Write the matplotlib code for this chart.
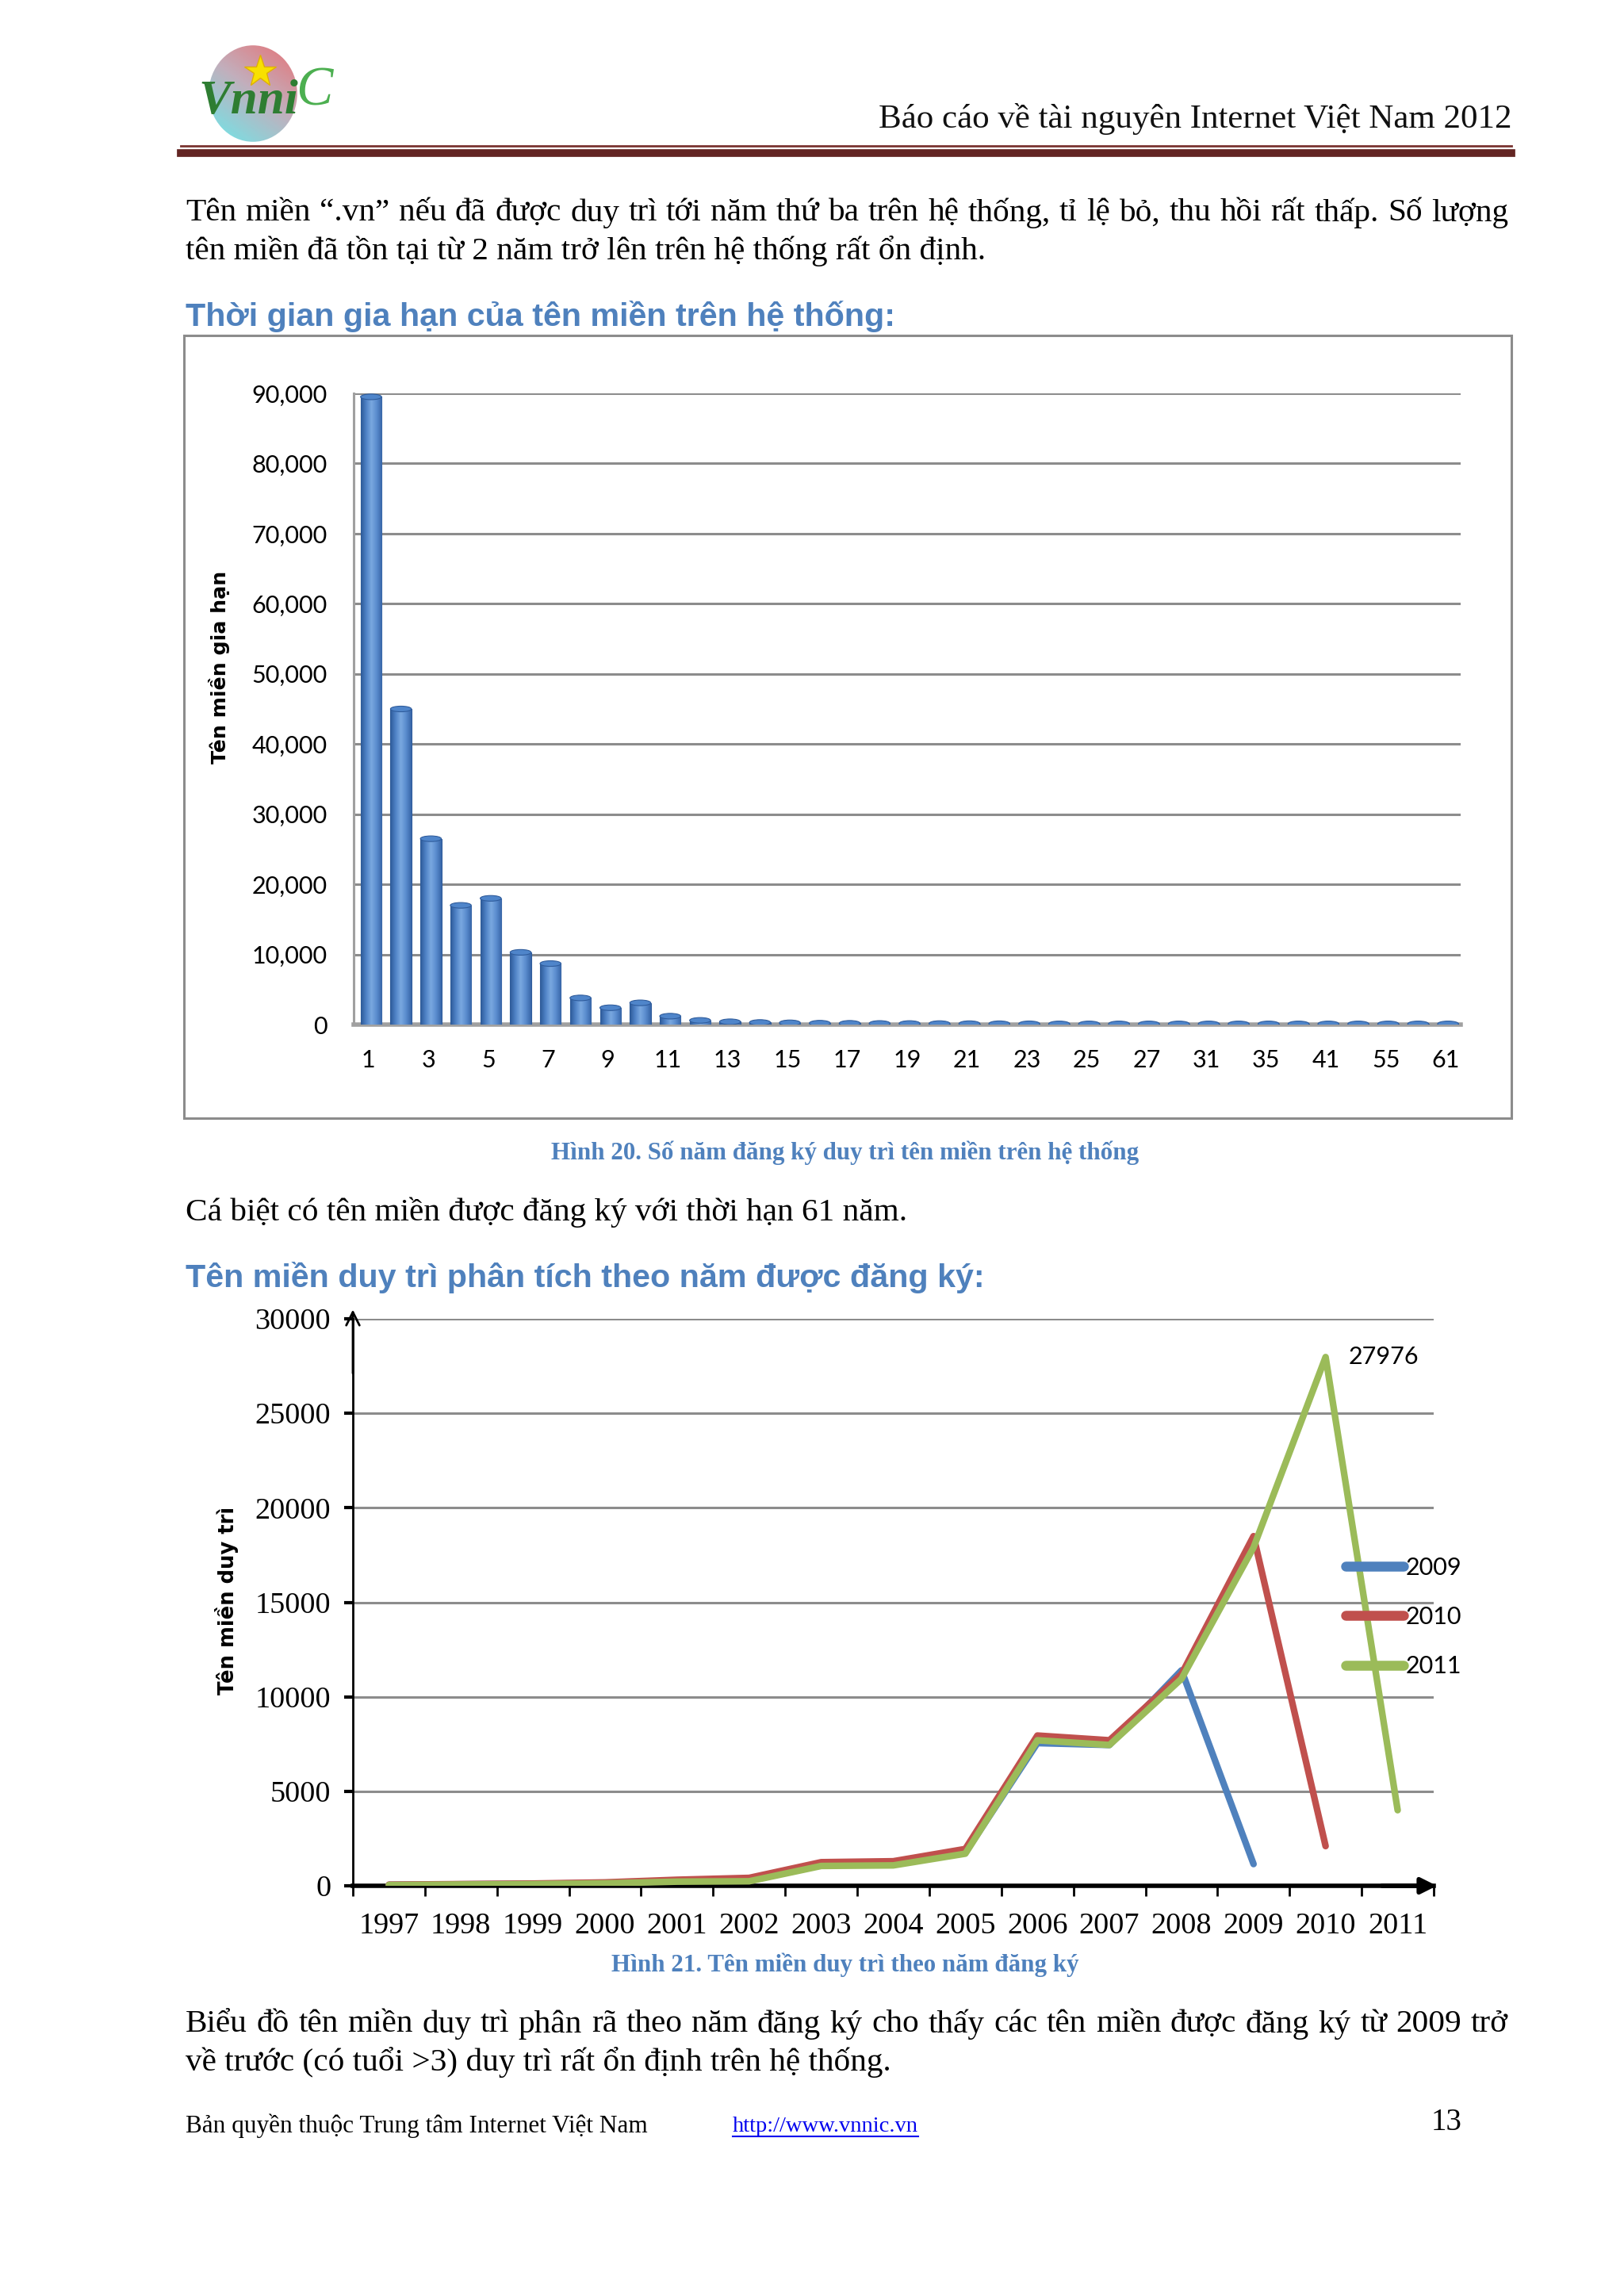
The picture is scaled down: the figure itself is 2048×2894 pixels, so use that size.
import numpy as np
import matplotlib.pyplot as plt
from matplotlib.colors import LinearSegmentedColormap
from matplotlib.patches import Rectangle, Ellipse
from matplotlib.lines import Line2D

# ---- data: renewal period (years) of domains on the system
years_kept = ['1', '2', '3', '4', '5', '6', '7', '8', '9', '10', '11', '12',
              '13', '14', '15', '16', '17', '18', '19', '20', '21', '22', '23',
              '24', '25', '26', '27', '29', '31', '33', '35', '40', '41', '50',
              '55', '60', '61']
domains_renewed = [89500, 45000, 26500, 17000, 18000, 10300, 8700, 3800, 2400,
                   3100, 1200, 600, 400, 300, 250, 200, 180, 160, 150, 140,
                   130, 120, 110, 100, 100, 100, 100, 100, 100, 100, 100, 100,
                   100, 100, 100, 100, 100]

# ---- data: kept domains by registration year
reg_years = ['1997', '1998', '1999', '2000', '2001', '2002', '2003', '2004',
             '2005', '2006', '2007', '2008', '2009', '2010', '2011']
nan = float('nan')
kept_2009 = [50, 80, 100, 150, 250, 300, 1100, 1150, 1750, 7550, 7450, 11400,
             1150, nan, nan]
kept_2010 = [60, 90, 120, 180, 320, 420, 1250, 1300, 1950, 7950, 7700, 11200,
             18500, 2100, nan]
kept_2011 = [40, 70, 90, 130, 220, 240, 1050, 1080, 1700, 7700, 7450, 10950,
             17900, 27976, 4000]
series_names = ['2009', '2010', '2011']
series_colors = ['#4F81BD', '#C0504D', '#9BBB59']

W, H = 2048, 2894
fig = plt.figure(figsize=(W / 100, H / 100), dpi=100)
fig.patch.set_facecolor('white')


def fx(px):
  return px / W


def fy(py):
  return 1 - py / H


SERIF = 'Liberation Serif'
HEAD_BLUE = '#4F81BD'


def justify(text, x0, x1, y, **kw):
  """ Draws a line of words spread evenly between x0 and x1 (pixels) """
  words = text.split(' ')
  r = fig.canvas.get_renderer()
  arts = [fig.text(0, fy(y), w, va='center', ha='left', **kw) for w in words]
  widths = [a.get_window_extent(r).width for a in arts]
  gap = ((x1 - x0) - sum(widths)) / (len(words) - 1)
  x = x0
  for a, w in zip(arts, widths):
    a.set_x(fx(x))
    x += w + gap


# ---- header
fig.text(fx(1906), fy(150), 'Báo cáo về tài nguyên Internet Việt Nam 2012',
         ha='right', va='center', fontsize=31, family=SERIF, color='#111111')
fig.add_artist(Line2D([fx(228), fx(1906)], [fy(184), fy(184)],
                      transform=fig.transFigure, color='#7A3330', lw=2.0))
fig.add_artist(Line2D([fx(228), fx(1906)], [fy(193), fy(193)],
                      transform=fig.transFigure, color='#632523', lw=7.0))

# logo (rough)
lax = fig.add_axes([fx(238), fy(182), fx(180), 128 / H])
lax.set_xlim(0, 1)
lax.set_ylim(0, 1)
lax.axis('off')
gx, gy = np.meshgrid(np.linspace(0, 1, 60), np.linspace(0, 1, 60))
grad = (gx + gy) / 2
lcmap = LinearSegmentedColormap.from_list('logo', ['#40F0F0', '#B8A0B0', '#F04040'])
ell = Ellipse((0.45, 0.5), 0.62, 0.95, transform=lax.transAxes)
im = lax.imshow(grad, extent=[0, 1, 0, 1], origin='lower', cmap=lcmap,
                aspect='auto', alpha=0.85)
im.set_clip_path(ell)
lax.plot([0.5], [0.72], marker='*', ms=30, color='#F8E000', mec='#E0B000')
lax.text(0.42, 0.42, 'Vnni', ha='center', va='center', fontsize=44,
         family=SERIF, style='italic', color='#2E7D32', weight='bold')
lax.text(0.88, 0.52, 'C', ha='center', va='center', fontsize=50,
         family=SERIF, style='italic', color='#4CAF50')

# ---- first paragraph
body = dict(fontsize=29.7, family=SERIF, color='black')
justify('Tên miền “.vn” nếu đã được duy trì tới năm thứ ba trên hệ thống, '
        'tỉ lệ bỏ, thu hồi rất thấp. Số lượng', 234, 1902, 269, **body)
fig.text(fx(234), fy(317), 'tên miền đã tồn tại từ 2 năm trở lên trên hệ thống rất ổn định.',
         va='center', **body)

head = dict(fontsize=29.7, family='Liberation Sans', weight='bold', color=HEAD_BLUE)
fig.text(fx(234), fy(399), 'Thời gian gia hạn của tên miền trên hệ thống:',
         va='center', **head)

# ---- bar chart
fig.add_artist(Rectangle((fx(232), fy(1410)), fx(1906) - fx(232), fy(423) - fy(1410),
                         transform=fig.transFigure, fill=False,
                         edgecolor='#8C8C8C', lw=2.2))
ax1 = fig.add_axes([fx(446), fy(1292), fx(1842) - fx(446), fy(496) - fy(1292)])
xpos = np.arange(len(years_kept))
bars = ax1.bar(xpos + 0.08, domains_renewed, width=0.7, color='#4A7EC0',
               edgecolor='#2F5C9C', lw=0.8, zorder=3)
bcmap = LinearSegmentedColormap.from_list(
    'bar', ['#2D5A98', '#4F82C6', '#7AA8E0', '#5A8CCE', '#3866A8'])
bgrad = np.linspace(0, 1, 64).reshape(1, -1)
for b in bars:
  x0, w, h = b.get_x(), b.get_width(), b.get_height()
  gim = ax1.imshow(bgrad, extent=[x0, x0 + w, 0, h], cmap=bcmap,
                   aspect='auto', zorder=3.5)
  gim.set_clip_path(b)
  ax1.add_patch(Ellipse((x0 + w / 2, h), w, 800, facecolor='#4F85CA',
                        edgecolor='#2F5C9C', lw=0.8, zorder=4))
ax1.set_xlim(-0.5, len(years_kept) - 0.5)
ax1.set_ylim(0, 90000)
ax1.set_yticks(np.arange(0, 90001, 10000))
ax1.set_yticklabels(['{:,}'.format(v) for v in range(0, 90001, 10000)],
                    fontsize=22, family='Lato')
ax1.set_xticks(xpos[::2])
ax1.set_xticklabels(years_kept[::2], fontsize=22, family='Lato')
ax1.tick_params(axis='both', length=0)
ax1.tick_params(axis='y', pad=24)
ax1.tick_params(axis='x', pad=22)
ax1.grid(axis='y', color='#8C8C8C', lw=2.2, zorder=0)
ax1.set_axisbelow(True)
for s in ['top', 'right']:
  ax1.spines[s].set_visible(False)
ax1.spines['left'].set_color('#A0A0A0')
ax1.spines['left'].set_linewidth(2.2)
ax1.spines['bottom'].set_color('#A0A0A0')
ax1.spines['bottom'].set_linewidth(4)
ax1.set_facecolor('none')
fig.text(fx(277), fy(841), 'Tên miền gia hạn', rotation=90, ha='center',
         va='center', fontsize=18.2, family='DejaVu Sans', weight='bold')

# ---- caption & text between charts
cap = dict(fontsize=22.3, family=SERIF, weight='bold', color=HEAD_BLUE)
fig.text(fx(1066), fy(1454), 'Hình 20. Số năm đăng ký duy trì tên miền trên hệ thống',
         ha='center', va='center', **cap)
fig.text(fx(234), fy(1529), 'Cá biệt có tên miền được đăng ký với thời hạn 61 năm.',
         va='center', **body)
fig.text(fx(234), fy(1611), 'Tên miền duy trì phân tích theo năm được đăng ký:',
         va='center', **head)

# ---- line chart
ax2 = fig.add_axes([fx(445), fy(2378), fx(1808) - fx(445), fy(1663) - fy(2378)])
xr = np.arange(len(reg_years))
for vals, name, col in zip([kept_2009, kept_2010, kept_2011], series_names,
                           series_colors):
  ax2.plot(xr, vals, color=col, lw=6, label=name, solid_capstyle='round',
           solid_joinstyle='round', zorder=3)
ax2.annotate('{}'.format(kept_2011[13]), (xr[13], kept_2011[13]),
             xytext=(21, 0), textcoords='offset points', ha='left',
             va='center', fontsize=22, family='Lato')
ax2.set_xlim(-0.5, len(reg_years) - 0.5)
ax2.set_ylim(0, 30000)
ax2.set_yticks(np.arange(0, 30001, 5000))
ax2.set_yticklabels([str(v) for v in range(0, 30001, 5000)], fontsize=27.5,
                    family=SERIF)
ax2.set_xticks(xr)
ax2.set_xticklabels(reg_years, fontsize=27.5, family=SERIF)
ax2.set_xticks(np.arange(-0.5, len(reg_years)), minor=True)
ax2.tick_params(axis='x', which='major', length=0, pad=24)
ax2.tick_params(axis='x', which='minor', length=9, width=2, direction='out')
ax2.tick_params(axis='y', length=8, width=3, direction='out', pad=12)
ax2.grid(axis='y', color='#8C8C8C', lw=2.2, zorder=0)
for s in ['top', 'right']:
  ax2.spines[s].set_visible(False)
ax2.spines['left'].set_linewidth(2)
ax2.spines['bottom'].set_linewidth(4)
ax2.annotate('', xy=(0, 1.02), xytext=(0, 0.9), xycoords='axes fraction',
             arrowprops=dict(arrowstyle='->', lw=2, color='black',
                             mutation_scale=30))
ax2.annotate('', xy=(1.005, 0), xytext=(0.95, 0), xycoords='axes fraction',
             arrowprops=dict(arrowstyle='-|>', lw=4, color='black',
                             mutation_scale=30))
leg = ax2.legend(loc='center left', bbox_to_anchor=(0.907, 0.474),
                 frameon=False, prop=dict(family='Lato', size=22),
                 handlelength=2.4, handletextpad=0.08, labelspacing=1.12,
                 borderpad=0)
for ln in leg.get_lines():
  ln.set_linewidth(9)
  ln.set_solid_capstyle('round')
fig.text(fx(286), fy(2018), 'Tên miền duy trì', rotation=90, ha='center',
         va='center', fontsize=18.6, family='DejaVu Sans', weight='bold')

fig.text(fx(1066), fy(2478), 'Hình 21. Tên miền duy trì theo năm đăng ký',
         ha='center', va='center', **cap)

# ---- last paragraph
justify('Biểu đồ tên miền duy trì phân rã theo năm đăng ký cho thấy các tên '
        'miền được đăng ký từ 2009 trở', 234, 1902, 2553, **body)
fig.text(fx(234), fy(2601), 'về trước (có tuổi >3) duy trì rất ổn định trên hệ thống.',
         va='center', **body)

# ---- footer
foot = dict(fontsize=22.5, family=SERIF, color='black')
fig.text(fx(234), fy(2681), 'Bản quyền thuộc Trung tâm Internet Việt Nam',
         va='center', **foot)
url = fig.text(fx(924), fy(2681), 'http://www.vnnic.vn', va='center',
               fontsize=20.5, family=SERIF, color='#0000EE')
r = fig.canvas.get_renderer()
ub = url.get_window_extent(r)
fig.add_artist(Line2D([ub.x0 / W, ub.x1 / W], [fy(2694), fy(2694)],
                      transform=fig.transFigure, color='#0000EE', lw=1.5))
fig.text(fx(1843), fy(2676), '13', ha='right', va='center', fontsize=28,
         family=SERIF)

fig.savefig('out.png', dpi=100, facecolor='white')
